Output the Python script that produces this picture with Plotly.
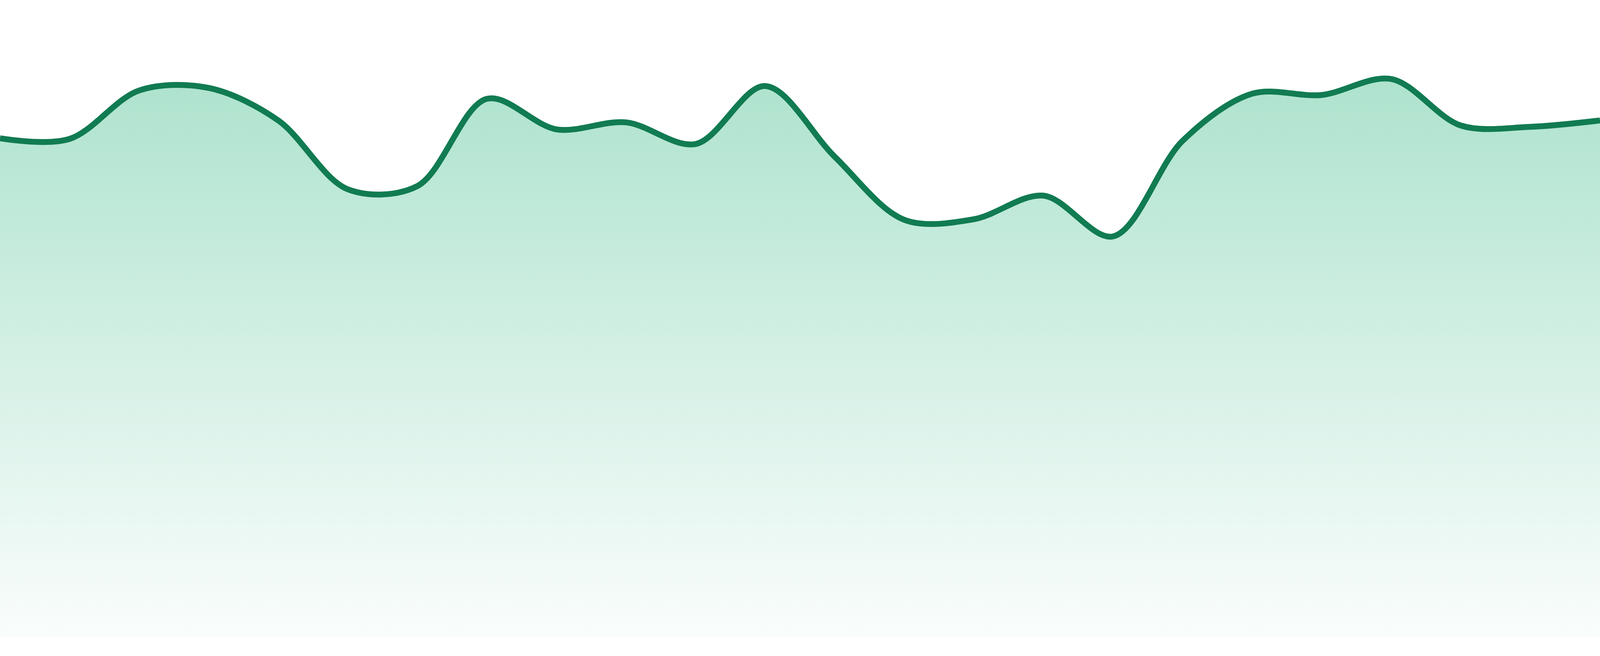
import plotly.graph_objects as go

# ---- data ----
periods = list(range(24))
values = [78.3, 78.2, 85.8, 86.2, 81.1, 70.3, 70.8, 84.5, 79.7, 80.8,
          77.4, 86.5, 75.4, 65.5, 65.6, 69.3, 62.9, 77.9, 85.3, 85.1,
          87.6, 80.3, 80.1, 81.1]

y_min, y_max = 0, 100

LINE_COLOR = "#117b52"
FILL_TOP = "rgb(174,227,206)"
FILL_BOTTOM = "rgb(250,253,252)"

fig = go.Figure()
fig.add_trace(go.Scatter(
    x=periods,
    y=values,
    mode="lines",
    line=dict(color=LINE_COLOR, width=15, shape="spline", smoothing=0.95),
    fill="tozeroy",
    fillgradient=dict(
        type="vertical",
        colorscale=[[0, FILL_BOTTOM], [1, FILL_TOP]],
        start=y_min,
        stop=max(values),
    ),
    hoverinfo="skip",
    showlegend=False,
))

fig.update_layout(
    autosize=True,
    margin=dict(l=0, r=0, t=0, b=0, pad=0),
    paper_bgcolor="white",
    plot_bgcolor="white",
    showlegend=False,
    xaxis=dict(range=[periods[0], periods[-1]], visible=False, showgrid=False,
               zeroline=False, fixedrange=True, domain=[0, 1]),
    yaxis=dict(range=[y_min, y_max], visible=False, showgrid=False,
               zeroline=False, fixedrange=True, domain=[48 / 1680, 1]),
)

fig.write_html(
    "out.html",
    config={"displayModeBar": False, "staticPlot": True, "responsive": True},
    default_width="100vw",
    default_height="100vh",
    post_script=(
        "document.documentElement.style.margin='0';"
        "document.body.style.margin='0';"
        "document.body.style.overflow='hidden';"
        "Plotly.Plots.resize(document.getElementById('{plot_id}'));"
    ),
)
